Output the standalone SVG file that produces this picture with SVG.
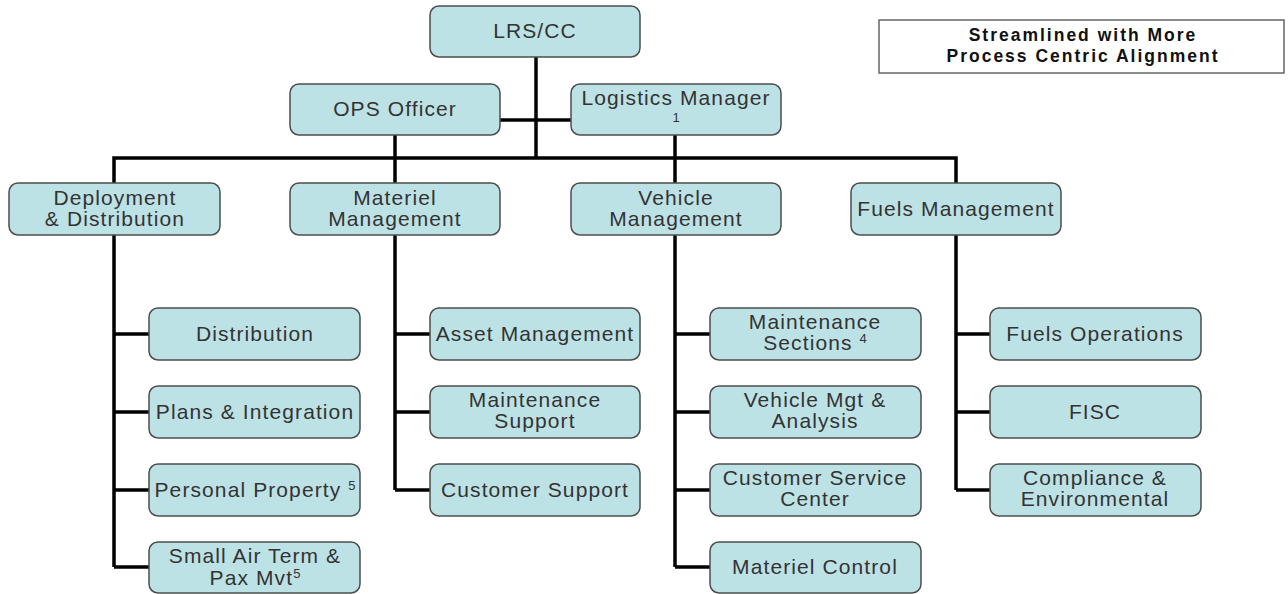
<svg xmlns="http://www.w3.org/2000/svg" width="1288" height="594" viewBox="0 0 1288 594">
<style>
.box{fill:#bde2e6;stroke:#4d4d4d;stroke-width:1.5}
.t{font-family:"Liberation Sans",Arial,sans-serif;font-size:21px;fill:#333;text-anchor:middle;letter-spacing:1.1px}
.sup{font-size:13px;letter-spacing:0}
.title{font-family:"Liberation Sans",Arial,sans-serif;font-size:17.5px;font-weight:bold;fill:#111;text-anchor:middle;letter-spacing:2px}
.c{fill:none;stroke:#000;stroke-width:3.5}
</style>
<rect width="1288" height="594" fill="#fff"/>
<g id="connectors">
<path class="c" d="M536 57V158"/>
<path class="c" d="M500 120H571"/>
<path class="c" d="M114 183V158H956V183"/>
<path class="c" d="M395 135V183"/>
<path class="c" d="M675 135V183"/>
<path class="c" d="M114 235V567M114 334H149M114 412H149M114 490H149M114 567H149"/>
<path class="c" d="M395 235V490M395 334H430M395 412H430M395 490H430"/>
<path class="c" d="M675 235V567M675 334H710M675 412H710M675 490H710M675 567H710"/>
<path class="c" d="M956 235V490M956 334H990M956 412H990M956 490H990"/>
</g>
<g id="legend">
<rect x="879" y="20" width="405" height="53" fill="#fff" stroke="#666" stroke-width="1.5"/>
<text class="title" x="1083" y="41">Streamlined with More</text>
<text class="title" x="1083" y="62">Process Centric Alignment</text>
</g>
<g id="lrscc"><rect class="box" x="430" y="6" width="210" height="51" rx="9"/><text class="t" x="535" y="38">LRS/CC</text></g>
<g id="ops"><rect class="box" x="290" y="84" width="210" height="51" rx="9"/><text class="t" x="395" y="116">OPS Officer</text></g>
<g id="logmgr"><rect class="box" x="571" y="84" width="210" height="51" rx="9"/><text class="t" x="676" y="105">Logistics Manager</text><text class="t sup" x="676" y="122">1</text></g>

<g id="deploy"><rect class="box" x="9" y="183" width="211" height="52" rx="9"/><text class="t" x="115" y="205">Deployment</text><text class="t" x="115" y="226">&amp; Distribution</text></g>
<g id="materiel"><rect class="box" x="290" y="183" width="210" height="52" rx="9"/><text class="t" x="395" y="205">Materiel</text><text class="t" x="395" y="226">Management</text></g>
<g id="vehicle"><rect class="box" x="571" y="183" width="210" height="52" rx="9"/><text class="t" x="676" y="205">Vehicle</text><text class="t" x="676" y="226">Management</text></g>
<g id="fuels"><rect class="box" x="851" y="183" width="210" height="52" rx="9"/><text class="t" x="956" y="216">Fuels Management</text></g>

<g id="distribution"><rect class="box" x="149" y="308" width="211" height="52" rx="9"/><text class="t" x="255" y="341">Distribution</text></g>
<g id="plans"><rect class="box" x="149" y="386" width="211" height="52" rx="9"/><text class="t" x="255" y="419">Plans &amp; Integration</text></g>
<g id="personal"><rect class="box" x="149" y="464" width="211" height="52" rx="9"/><text class="t" x="255" y="497">Personal Property <tspan class="sup" dy="-7">5</tspan></text></g>
<g id="smallair"><rect class="box" x="149" y="542" width="211" height="51" rx="9"/><text class="t" x="255" y="563">Small Air Term &amp;</text><text class="t" x="255" y="585">Pax Mvt<tspan class="sup" dy="-7">5</tspan></text></g>

<g id="asset"><rect class="box" x="430" y="308" width="210" height="52" rx="9"/><text class="t" x="535" y="341">Asset Management</text></g>
<g id="maintsupport"><rect class="box" x="430" y="386" width="210" height="52" rx="9"/><text class="t" x="535" y="407">Maintenance</text><text class="t" x="535" y="428">Support</text></g>
<g id="custsupport"><rect class="box" x="430" y="464" width="210" height="52" rx="9"/><text class="t" x="535" y="497">Customer Support</text></g>

<g id="maintsections"><rect class="box" x="710" y="308" width="211" height="52" rx="9"/><text class="t" x="815" y="329">Maintenance</text><text class="t" x="815" y="350">Sections <tspan class="sup" dy="-7">4</tspan></text></g>
<g id="vehmgt"><rect class="box" x="710" y="386" width="211" height="52" rx="9"/><text class="t" x="815" y="407">Vehicle Mgt &amp;</text><text class="t" x="815" y="428">Analysis</text></g>
<g id="csc"><rect class="box" x="710" y="464" width="211" height="52" rx="9"/><text class="t" x="815" y="485">Customer Service</text><text class="t" x="815" y="506">Center</text></g>
<g id="matcontrol"><rect class="box" x="710" y="542" width="211" height="51" rx="9"/><text class="t" x="815" y="574">Materiel Control</text></g>

<g id="fuelops"><rect class="box" x="990" y="308" width="211" height="52" rx="9"/><text class="t" x="1095" y="341">Fuels Operations</text></g>
<g id="fisc"><rect class="box" x="990" y="386" width="211" height="52" rx="9"/><text class="t" x="1095" y="419">FISC</text></g>
<g id="compliance"><rect class="box" x="990" y="464" width="211" height="52" rx="9"/><text class="t" x="1095" y="485">Compliance &amp;</text><text class="t" x="1095" y="506">Environmental</text></g>
</svg>
